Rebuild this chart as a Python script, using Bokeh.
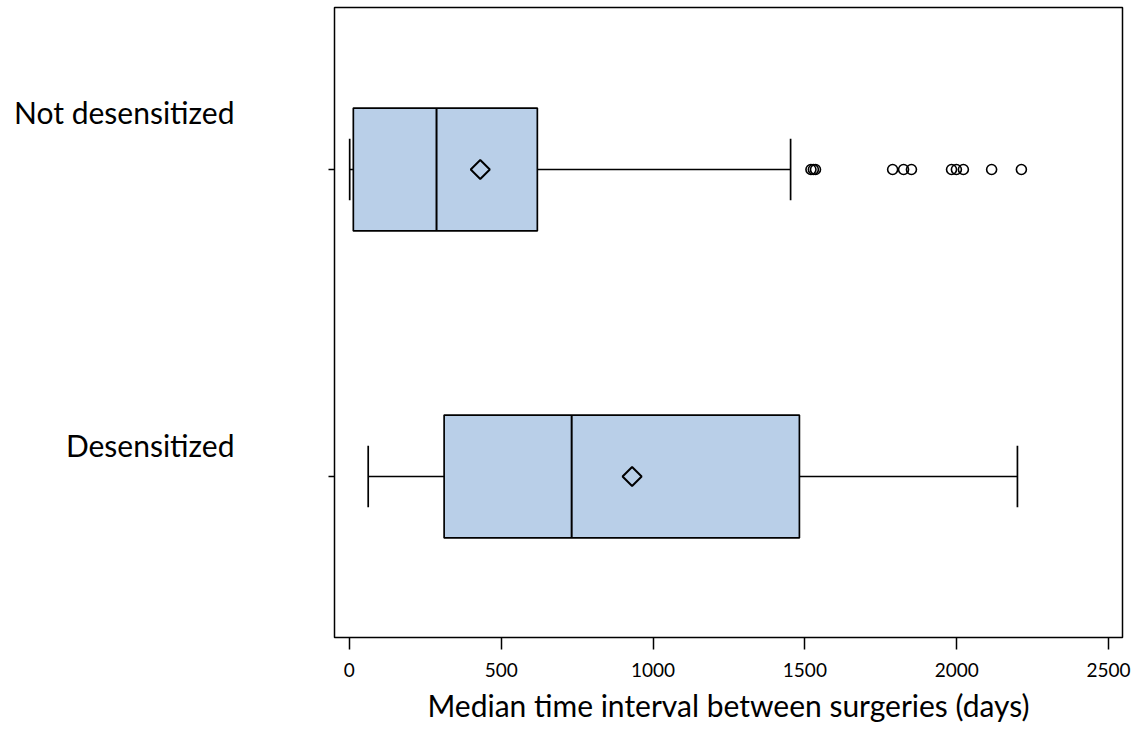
import math
from bokeh.plotting import figure
from bokeh.models import Range1d, LinearAxis, FixedTicker, ColumnDataSource
from bokeh.embed import file_html
from bokeh.resources import INLINE

# ---- data ----
groups = ["Desensitized", "Not desensitized"]
group_pos = [1, 2]
lower_whisker = [62, 1]
q1 = [312, 13]
median = [732, 287]
q3 = [1482, 619]
upper_whisker = [2200, 1453]
mean = [931, 431]
outlier_values = [1520, 1528, 1535, 1789, 1825, 1851, 1983, 1999, 2022, 2115, 2213]
outlier_group = [2] * len(outlier_values)
x_ticks = [0, 500, 1000, 1500, 2000, 2500]
x_title = "Median time interval between surgeries (days)"

FONT = "Lato"
BOX_FILL = "#b9cfe8"
BOX_H = 0.4
CAP_H = 0.2

Y0, Y1 = 0.4756, 2.5277          # data range of the boxes
L0, L1 = 0.4251, 2.3114          # range used to place the group labels

p = figure(
    frame_width=788, frame_height=630,
    x_range=Range1d(-49, 2546), y_range=Range1d(Y0, Y1),
    output_backend="svg", toolbar_location=None,
    min_border_top=7, min_border_left=334, min_border_right=10, min_border_bottom=0,
)
p.extra_y_ranges = {"labels": Range1d(L0, L1)}
p.grid.visible = False
p.outline_line_color = "black"
p.outline_line_width = 1.5
p.background_fill_color = "white"
p.border_fill_color = "white"

src = ColumnDataSource(dict(
    y=group_pos, lw=lower_whisker, q1=q1, med=median, q3=q3, uw=upper_whisker, mean=mean,
    cap_lo=[v - CAP_H / 2 for v in group_pos], cap_hi=[v + CAP_H / 2 for v in group_pos],
    box_lo=[v - BOX_H / 2 for v in group_pos], box_hi=[v + BOX_H / 2 for v in group_pos],
))

# whiskers
p.segment(x0="lw", y0="y", x1="q1", y1="y", source=src, line_color="black", line_width=1.7)
p.segment(x0="q3", y0="y", x1="uw", y1="y", source=src, line_color="black", line_width=1.7)
p.segment(x0="lw", y0="cap_lo", x1="lw", y1="cap_hi", source=src, line_color="black", line_width=1.7)
p.segment(x0="uw", y0="cap_lo", x1="uw", y1="cap_hi", source=src, line_color="black", line_width=1.7)
# boxes
p.hbar(y="y", left="q1", right="q3", height=BOX_H, source=src,
       fill_color=BOX_FILL, line_color="black", line_width=1.7)
# medians
p.segment(x0="med", y0="box_lo", x1="med", y1="box_hi", source=src, line_color="black", line_width=2)
# means (diamond = square turned 45 degrees)
p.scatter(x="mean", y="y", source=src, marker="square", size=13.5, angle=math.pi / 4,
          fill_color=BOX_FILL, line_color="black", line_width=2)
# outliers
p.scatter(x=outlier_values, y=outlier_group, marker="circle", size=10,
          fill_color=None, line_color="black", line_width=1.6)

# x axis
xa = p.xaxis[0]
xa.ticker = FixedTicker(ticks=x_ticks)
xa.minor_tick_line_color = None
xa.major_tick_in = 0
xa.major_tick_out = 12
xa.major_tick_line_color = "black"
xa.major_tick_line_width = 1.5
xa.axis_line_color = None
xa.major_label_standoff = 13
xa.major_label_text_font = FONT
xa.major_label_text_font_size = "19px"
xa.major_label_text_color = "black"
xa.axis_label = x_title
xa.axis_label_text_font = FONT
xa.axis_label_text_font_size = "30px"
xa.axis_label_text_font_style = "normal"
xa.axis_label_text_color = "black"
xa.axis_label_standoff = 7

# default y axis not used
p.yaxis[0].visible = False

# group axis: labels at major ticks, tick marks (minor ticks) at the box centres
tick_pos = [L0 + (v - Y0) / (Y1 - Y0) * (L1 - L0) for v in group_pos]
la = LinearAxis(y_range_name="labels",
                ticker=FixedTicker(ticks=group_pos, minor_ticks=tick_pos),
                major_label_overrides={g: name for g, name in zip(group_pos, groups)})
la.axis_line_color = None
la.major_tick_line_color = None
la.major_tick_in = 0
la.major_tick_out = 0
la.minor_tick_in = 0
la.minor_tick_out = 6
la.minor_tick_line_color = "black"
la.minor_tick_line_width = 1.5
la.major_label_standoff = 94
la.major_label_text_font = FONT
la.major_label_text_font_size = "30px"
la.major_label_text_color = "black"
p.add_layout(la, "left")

open("out.html", "w").write(file_html(p, INLINE))
